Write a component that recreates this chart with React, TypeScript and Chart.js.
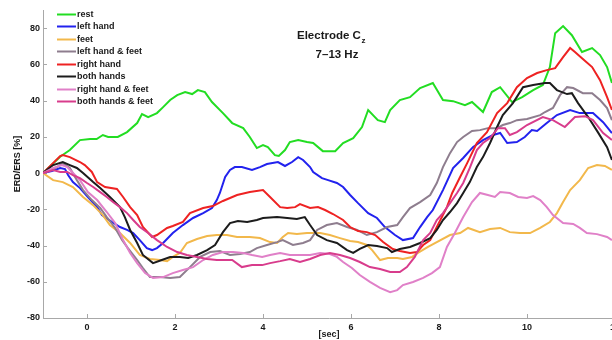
import React, { useEffect, useRef } from 'react';
import { Chart, registerables } from 'chart.js';

Chart.register(...registerables);

// ---------- data (time [sec], ERD/ERS [%]) ----------
const LABELS = [
  'rest',
  'left hand',
  'feet',
  'left hand & feet',
  'right hand',
  'both hands',
  'right hand & feet',
  'both hands & feet',
];

const COLORS = [
  '#22dd22',
  '#2222ee',
  '#f2b84b',
  '#8e7d8e',
  '#ee2222',
  '#1c1c1c',
  '#e080c8',
  '#d83c8c',
];

const REST: [number, number][] = [
  [-1, 0], [-0.61, 9], [-0.39, 12.7], [-0.16, 18.2], [0.07, 18.8], [0.22, 18.8], [0.36, 21], [0.48, 19.9],
  [0.7, 19.9], [0.91, 22.6], [1.14, 27.6], [1.25, 32.6], [1.39, 30.9], [1.59, 33.1], [1.73, 36.4], [1.89, 40.3],
  [2.05, 43], [2.23, 44.7], [2.39, 43.6], [2.52, 45.8], [2.68, 44.7], [2.84, 39.2], [3.09, 33.1], [3.3, 27.6],
  [3.55, 24.8], [3.7, 19.9], [3.86, 13.8], [4, 15.4], [4.11, 14.3], [4.27, 9.9], [4.36, 9.4], [4.5, 12.7],
  [4.61, 17.1], [4.8, 18.2], [5, 17.1], [5.14, 16.6], [5.36, 12.1], [5.64, 12.1], [5.82, 16.6], [6.05, 19.3],
  [6.25, 25.4], [6.39, 34.8], [6.61, 29.2], [6.77, 28.1], [6.89, 34.8], [7.11, 40.3], [7.34, 41.9], [7.57, 46.9],
  [7.86, 49.7], [8.09, 40.3], [8.32, 39.7], [8.59, 37.5], [8.75, 39.2], [9, 33.7], [9.2, 44.7], [9.39, 47.4],
  [9.66, 39.2], [9.89, 41.9], [10.14, 45.8], [10.36, 48.6], [10.52, 58.5], [10.64, 77.2], [10.82, 81.1],
  [11.02, 76.1], [11.25, 66.8], [11.48, 69], [11.66, 65.1], [11.82, 58.5], [11.93, 49.7],
];

const LEFT_HAND: [number, number][] = [
  [-1, 0], [-0.8, 1.1], [-0.61, 2.8], [-0.5, 2.2], [-0.43, -1.1], [-0.32, -5], [-0.16, -8.3], [0.02, -13.2],
  [0.23, -18.8], [0.34, -23.2], [0.57, -27], [0.75, -29.8], [0.91, -31.4], [1.05, -33.1], [1.2, -37],
  [1.36, -41.4], [1.48, -42.5], [1.59, -41.4], [1.73, -38.6], [1.95, -33.1], [2.18, -28.7], [2.41, -24.8],
  [2.64, -22.1], [2.84, -19.3], [2.95, -14.9], [3.02, -11], [3.14, -2.2], [3.25, 1.7], [3.36, 3.3], [3.52, 3.3],
  [3.75, 1.7], [3.93, 3.3], [4.09, 5], [4.34, 6.1], [4.5, 3.9], [4.66, 6.1], [4.8, 8.8], [4.91, 7.2], [5.07, 3.3],
  [5.14, 0.6], [5.34, -2.8], [5.48, -3.9], [5.68, -5.5], [5.82, -7.7], [5.98, -12.1], [6.16, -16.6],
  [6.39, -22.1], [6.59, -24.8], [6.77, -29.8], [7, -34.2], [7.18, -37], [7.41, -35.9], [7.57, -29.8],
  [7.73, -24.3], [7.86, -20.4], [8.09, -9.4], [8.32, 2.8], [8.55, 8.3], [8.77, 14.3], [9, 18.2], [9.23, 21],
  [9.39, 22.1], [9.55, 16.6], [9.77, 17.1], [9.95, 19.9], [10.11, 23.7], [10.23, 23.2], [10.45, 27.6],
  [10.68, 32], [10.98, 34.8], [11.2, 33.1], [11.5, 33.1], [11.73, 28.1], [11.93, 22.1],
];

const FEET: [number, number][] = [
  [-1, 0], [-0.77, -3.9], [-0.55, -5], [-0.32, -7.7], [-0.09, -13.2], [0.14, -17.7], [0.36, -23.2],
  [0.52, -28.7], [0.75, -33.1], [0.98, -38.6], [1.2, -45.2], [1.43, -47.4], [1.66, -48], [1.82, -48.6],
  [1.95, -46.3], [2.11, -44.1], [2.27, -38.6], [2.5, -36.4], [2.73, -34.8], [2.95, -34.2], [3.18, -34.2],
  [3.41, -35.3], [3.7, -35.3], [3.93, -35.9], [4.16, -38.1], [4.32, -38.6], [4.45, -35.3], [4.57, -33.1],
  [4.77, -33.7], [5, -33.1], [5.3, -33.1], [5.52, -34.2], [5.75, -35.9], [5.98, -37.5], [6.16, -38.1],
  [6.36, -39.7], [6.48, -42.5], [6.66, -48], [6.84, -46.9], [7.05, -46.9], [7.18, -47.4], [7.39, -46.3],
  [7.52, -44.1], [7.75, -40.8], [7.95, -38.1], [8.25, -34.2], [8.48, -33.1], [8.66, -30.3], [8.93, -32.6],
  [9.16, -30.9], [9.39, -30.3], [9.61, -32.6], [9.84, -33.1], [10.07, -33.1], [10.3, -30.3], [10.52, -27],
  [10.68, -22.1], [10.82, -16], [10.98, -9.4], [11.2, -3.9], [11.39, 2.8], [11.59, 4.4], [11.77, 3.9],
  [11.93, 1.7],
];

const LEFT_HAND_FEET: [number, number][] = [
  [-1, 0], [-0.68, 3.3], [-0.55, 5.5], [-0.39, 2.8], [-0.23, -3.9], [-0.09, -9.4], [0.11, -14.9],
  [0.3, -19.3], [0.45, -24.3], [0.64, -30.3], [0.8, -37], [0.93, -41.4], [1.14, -48], [1.27, -52.4],
  [1.43, -57.4], [1.66, -57.4], [1.89, -57.9], [2.11, -57.4], [2.34, -51.9], [2.57, -46.3], [2.8, -43.6],
  [3.02, -43], [3.25, -45.2], [3.48, -44.7], [3.7, -43.6], [3.86, -41.4], [4.09, -39.7], [4.32, -38.1],
  [4.45, -37], [4.68, -39.7], [4.91, -38.6], [5.07, -37], [5.23, -31.4], [5.45, -28.7], [5.68, -27.6],
  [5.91, -29.8], [6.14, -31.4], [6.36, -34.2], [6.59, -32.6], [6.82, -29.8], [7.05, -28.7], [7.18, -24.3],
  [7.34, -19.3], [7.57, -16], [7.8, -12.1], [7.95, -5.5], [8.09, 3.3], [8.25, 11], [8.41, 17.1], [8.55, 19.9],
  [8.75, 23.2], [8.93, 23.7], [9.11, 24.8], [9.32, 24.8], [9.45, 26.5], [9.61, 27.6], [9.77, 29.2], [10, 29.8],
  [10.3, 32], [10.41, 33.7], [10.59, 35.9], [10.75, 43], [10.91, 47.4], [11.05, 46.9], [11.27, 44.1],
  [11.48, 44.1], [11.66, 40.3], [11.82, 35.9], [11.93, 29.2],
];

const RIGHT_HAND: [number, number][] = [
  [-1, 0], [-0.61, 9.4], [-0.55, 9.9], [-0.39, 8.8], [-0.16, 6.1], [-0.05, 4.4], [0.11, 0.6], [0.23, -5],
  [0.41, -7.7], [0.68, -8.8], [0.82, -13.2], [0.98, -18.8], [1.14, -23.2], [1.27, -29.8], [1.48, -35.3],
  [1.59, -34.2], [1.82, -30.3], [1.95, -29.2], [2.18, -27], [2.34, -22.1], [2.64, -19.3], [2.86, -18.2],
  [3.09, -15.4], [3.41, -12.1], [3.7, -10.5], [4, -9.4], [4.16, -13.2], [4.39, -18.8], [4.55, -19.3],
  [4.73, -18.8], [4.84, -17.1], [5.07, -19.3], [5.25, -18.8], [5.41, -20.4], [5.59, -22.6], [5.82, -25.9],
  [5.98, -29.8], [6.16, -32], [6.36, -32.6], [6.55, -34.2], [6.73, -38.1], [6.95, -41.9], [7.11, -43],
  [7.34, -44.1], [7.5, -43.6], [7.64, -39.7], [7.8, -37], [7.95, -29.8], [8.18, -18.8], [8.3, -11],
  [8.48, -2.2], [8.64, 5.5], [8.86, 16.6], [9.09, 22.6], [9.32, 33.1], [9.55, 38.6], [9.77, 47.4], [10, 52.4],
  [10.23, 55.2], [10.45, 56.8], [10.64, 57.9], [10.82, 64], [10.98, 69], [11.09, 66.8], [11.25, 63.4],
  [11.48, 58.5], [11.66, 51.3], [11.82, 41.9], [11.93, 34.8],
];

const BOTH_HANDS: [number, number][] = [
  [-1, 0], [-0.77, 4.4], [-0.55, 6.1], [-0.39, 4.4], [-0.23, 2.8], [-0.09, 0], [0.14, -5], [0.3, -8.3],
  [0.52, -13.2], [0.75, -18.8], [0.86, -24.3], [0.98, -31.4], [1.14, -38.6], [1.27, -45.2], [1.5, -49.7],
  [1.7, -48], [1.89, -46.3], [2.11, -46.3], [2.3, -46.9], [2.5, -45.2], [2.73, -42.5], [2.91, -39.7],
  [3.09, -32.6], [3.25, -27.6], [3.43, -26.5], [3.64, -27], [3.86, -25.9], [4, -24.8], [4.32, -24.3],
  [4.55, -24.8], [4.77, -25.4], [4.95, -24.3], [5.07, -28.7], [5.23, -34.2], [5.45, -37], [5.68, -38.6],
  [5.91, -42.5], [6.05, -44.1], [6.2, -41.9], [6.39, -39.7], [6.59, -40.3], [6.82, -41.4], [6.93, -43.6],
  [7.11, -41.9], [7.34, -40.8], [7.57, -38.6], [7.8, -35.9], [7.95, -31.4], [8.09, -25.9], [8.25, -21.5],
  [8.41, -16.6], [8.55, -11], [8.7, -5], [8.86, 3.3], [9, 8.8], [9.16, 16.6], [9.32, 25.4], [9.45, 32],
  [9.68, 38.6], [9.91, 47.4], [10.14, 48.6], [10.41, 49.7], [10.52, 49.7], [10.68, 45.8], [10.91, 43.6],
  [11.02, 44.1], [11.16, 38.6], [11.39, 30.9], [11.61, 22.6], [11.82, 14.3], [11.93, 7.2],
];

const RIGHT_HAND_FEET: [number, number][] = [
  [-1, 0], [-0.77, 2.8], [-0.57, 4.4], [-0.45, 3.3], [-0.34, 0.6], [-0.16, -3.9], [0.02, -10.5],
  [0.23, -14.9], [0.45, -21.5], [0.64, -27.6], [0.82, -37], [0.98, -44.1], [1.14, -49.7], [1.32, -55.2],
  [1.5, -57.9], [1.73, -57.4], [1.95, -55.2], [2.18, -53.5], [2.41, -51.9], [2.64, -48], [2.86, -45.2],
  [3.09, -43.6], [3.32, -43.6], [3.55, -44.1], [3.75, -45.2], [3.98, -46.3], [4.16, -45.2], [4.39, -44.1],
  [4.61, -45.2], [4.84, -45.2], [5.07, -45.2], [5.3, -44.1], [5.52, -44.7], [5.68, -46.3], [5.82, -49.1],
  [6.02, -52.4], [6.2, -56.3], [6.43, -60.1], [6.66, -63.4], [6.89, -65.7], [7.05, -64.6], [7.18, -61.8],
  [7.41, -60.1], [7.64, -57.9], [7.84, -55.2], [8.02, -51.9], [8.18, -40.8], [8.36, -33.1], [8.55, -24.3],
  [8.75, -16], [8.93, -11], [9.11, -12.1], [9.27, -13.2], [9.39, -10.5], [9.61, -11], [9.8, -13.2],
  [10, -13.8], [10.14, -12.7], [10.3, -14.9], [10.45, -18.8], [10.59, -23.2], [10.82, -27.6], [11.05, -28.1],
  [11.2, -30.3], [11.36, -33.1], [11.59, -33.7], [11.82, -35.3], [11.93, -37],
];

const BOTH_HANDS_FEET: [number, number][] = [
  [-1, 0], [-0.77, 1.7], [-0.61, 0.6], [-0.45, 0.6], [-0.32, -1.1], [-0.16, -2.8], [0, -5.5], [0.14, -7.7],
  [0.3, -10.5], [0.45, -13.2], [0.59, -16], [0.75, -18.8], [0.91, -22.1], [1.05, -25.9], [1.2, -29.8],
  [1.39, -33.1], [1.59, -37], [1.82, -40.8], [2.05, -43.6], [2.27, -45.2], [2.5, -46.3], [2.73, -47.4],
  [2.95, -48], [3.3, -48], [3.52, -51.9], [3.75, -50.8], [3.98, -50.8], [4.16, -49.7], [4.39, -48.6],
  [4.61, -47.4], [4.84, -49.1], [5.07, -47.4], [5.3, -45.2], [5.52, -44.1], [5.75, -45.2], [5.98, -46.9],
  [6.2, -49.1], [6.43, -51.9], [6.66, -53], [6.89, -54.6], [7.11, -54.6], [7.27, -51.9], [7.45, -46.3],
  [7.64, -37], [7.8, -33.1], [7.95, -25.9], [8.09, -22.1], [8.25, -16.6], [8.41, -11], [8.55, -5.5],
  [8.7, 2.8], [8.86, 12.7], [9, 16.6], [9.16, 19.3], [9.34, 24.8], [9.5, 24.8], [9.61, 21], [9.77, 22.6],
  [10, 26.5], [10.36, 30.9], [10.59, 29.2], [10.86, 25.4], [11.09, 30.9], [11.32, 31.4], [11.5, 29.2],
  [11.73, 22.1], [11.93, 18.2],
];

const X_TICKS = [0, 2, 4, 6, 8, 10, 12];
const Y_TICKS = [-80, -60, -40, -20, 0, 20, 40, 60, 80];
const X_MIN = -1;
const X_MAX = 12;
const Y_MIN = -80;
const Y_MAX = 90;

const TITLE_MAIN = 'Electrode C';
const TITLE_SUB = 'z';
const TITLE_LINE2 = '7\u201313 Hz';
const X_TITLE = '[sec]';
const Y_TITLE = 'ERD/ERS [%]';

// ---------- styling ----------
const FONT = '"Liberation Sans", Arial, Helvetica, sans-serif';
const AXIS_COLOR = '#a8a8a8';
const TEXT_COLOR = '#1a1a1a';
const CANVAS_W = 640;
const CANVAS_H = 340;

const inwardTicks = {
  id: 'inwardTicks',
  beforeDatasetsDraw(chart: any) {
    const { ctx, chartArea, scales } = chart;
    ctx.save();
    ctx.strokeStyle = AXIS_COLOR;
    ctx.lineWidth = 1;
    ctx.beginPath();
    for (const v of X_TICKS) {
      const px = Math.round(scales.x.getPixelForValue(v)) + 0.5;
      ctx.moveTo(px, chartArea.bottom);
      ctx.lineTo(px, chartArea.bottom - 4);
    }
    for (const v of Y_TICKS) {
      const py = Math.round(scales.y.getPixelForValue(v)) + 0.5;
      ctx.moveTo(chartArea.left, py);
      ctx.lineTo(chartArea.left + 4, py);
    }
    ctx.stroke();
    ctx.restore();
  },
};

const inlineLegend = {
  id: 'inlineLegend',
  afterDraw(chart: any) {
    const { ctx, chartArea } = chart;
    ctx.save();
    ctx.font = `bold 9px ${FONT}`;
    ctx.textBaseline = 'middle';
    ctx.textAlign = 'left';
    chart.data.datasets.forEach((ds: any, i: number) => {
      const yy = Math.round(chartArea.top + 4 + i * 12.45) + 0.5;
      ctx.strokeStyle = ds.borderColor;
      ctx.lineWidth = 2;
      ctx.beginPath();
      ctx.moveTo(chartArea.left + 14, yy);
      ctx.lineTo(chartArea.left + 33, yy);
      ctx.stroke();
      ctx.fillStyle = TEXT_COLOR;
      ctx.fillText(ds.label, chartArea.left + 34, yy + 0.5);
    });
    ctx.restore();
  },
};

const innerTitle = {
  id: 'innerTitle',
  afterDraw(chart: any) {
    const { ctx, chartArea } = chart;
    ctx.save();
    ctx.fillStyle = TEXT_COLOR;
    ctx.textBaseline = 'middle';
    ctx.textAlign = 'left';
    ctx.font = `bold 11.5px ${FONT}`;
    const x0 = chartArea.left + 254;
    const y0 = chartArea.top + 26;
    ctx.fillText(TITLE_MAIN, x0, y0);
    const w = ctx.measureText(TITLE_MAIN).width;
    ctx.font = `bold 8px ${FONT}`;
    ctx.fillText(TITLE_SUB, x0 + w + 0.5, y0 + 5);
    ctx.font = `bold 11.5px ${FONT}`;
    ctx.textAlign = 'center';
    ctx.fillText(TITLE_LINE2, chartArea.left + 294, chartArea.top + 45);
    ctx.restore();
  },
};

export default function App() {
  const ref = useRef<HTMLCanvasElement>(null);

  useEffect(() => {
    document.body.style.margin = '0';
    document.body.style.overflow = 'hidden';
    const series = [REST, LEFT_HAND, FEET, LEFT_HAND_FEET, RIGHT_HAND, BOTH_HANDS, RIGHT_HAND_FEET, BOTH_HANDS_FEET];
    const tickFont = { family: FONT, size: 9, weight: 'bold' as const };
    const chart = new Chart(ref.current as HTMLCanvasElement, {
      type: 'line',
      data: {
        datasets: series.map((s, i) => ({
          label: LABELS[i],
          data: s.map(([x, y]) => ({ x, y })),
          borderColor: COLORS[i],
          backgroundColor: COLORS[i],
          borderWidth: 2,
          pointRadius: 0,
          tension: 0,
          fill: false,
          order: series.length - i,
        })),
      },
      options: {
        animation: false,
        responsive: false,
        maintainAspectRatio: false,
        layout: { padding: { left: 0, top: 10, right: CANVAS_W - 615, bottom: 0 } },
        plugins: { legend: { display: false }, tooltip: { enabled: false }, title: { display: false } },
        scales: {
          x: {
            type: 'linear',
            min: X_MIN,
            max: X_MAX,
            afterBuildTicks: (s: any) => {
              s.ticks = X_TICKS.map((v) => ({ value: v }));
            },
            afterFit: (s: any) => {
              s.height = 22;
            },
            grid: { display: false, drawTicks: false },
            border: { display: true, color: AXIS_COLOR, width: 1 },
            ticks: { padding: 4, color: TEXT_COLOR, font: tickFont, maxRotation: 0, autoSkip: false },
            title: { display: true, text: X_TITLE, color: TEXT_COLOR, font: tickFont, padding: { top: 0, bottom: 0 } },
          },
          y: {
            type: 'linear',
            min: Y_MIN,
            max: Y_MAX,
            afterBuildTicks: (s: any) => {
              s.ticks = Y_TICKS.map((v) => ({ value: v }));
            },
            afterFit: (s: any) => {
              s.width = 43;
            },
            grid: { display: false, drawTicks: false },
            border: { display: true, color: AXIS_COLOR, width: 1 },
            ticks: { padding: 3, color: TEXT_COLOR, font: tickFont, autoSkip: false },
            title: { display: true, text: Y_TITLE, color: TEXT_COLOR, font: tickFont, padding: { top: 12.5, bottom: 0 } },
          },
        },
      },
      plugins: [inwardTicks, inlineLegend, innerTitle],
    });
    return () => chart.destroy();
  }, []);

  return (
    <canvas
      ref={ref}
      width={CANVAS_W}
      height={CANVAS_H}
      style={{ position: 'fixed', left: 0, top: 0, width: CANVAS_W, height: CANVAS_H, background: '#fff' }}
    />
  );
}
